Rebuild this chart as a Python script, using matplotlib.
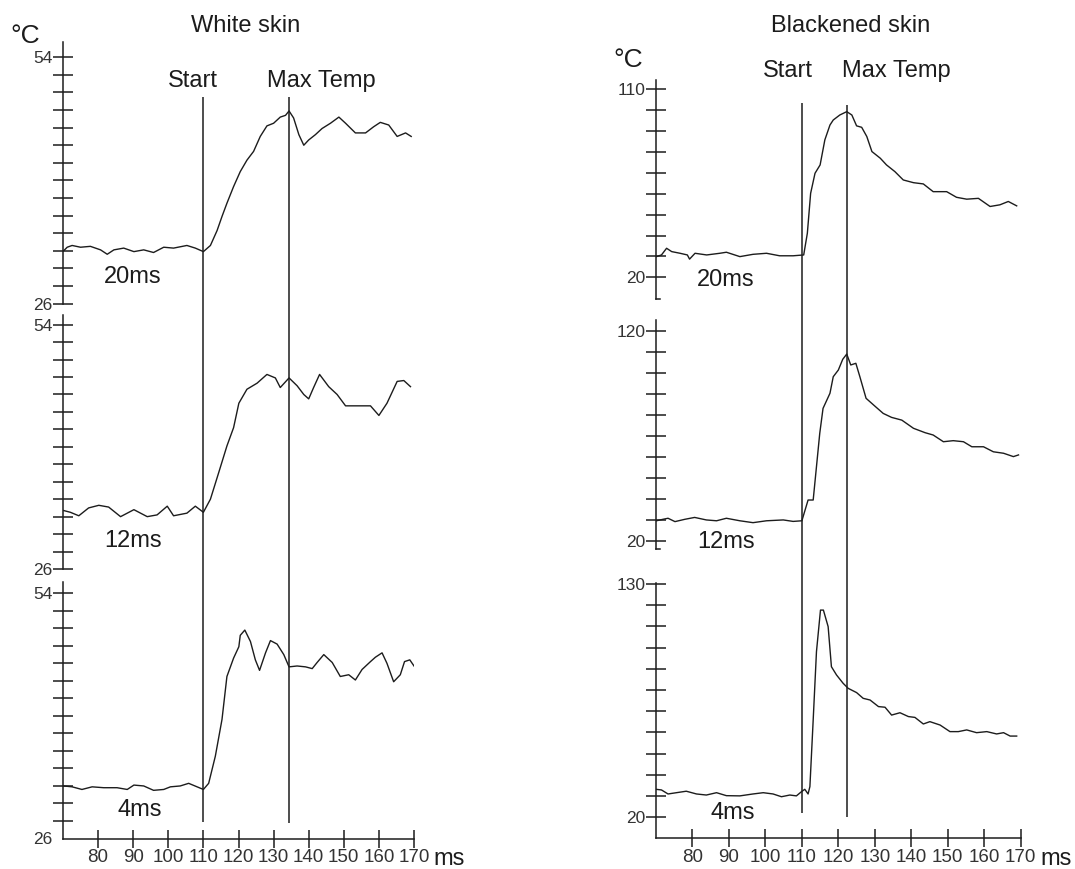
import matplotlib.pyplot as plt

plt.rcParams['font.family'] = ['Liberation Sans', 'DejaVu Sans']

W, H = 1075, 869
INK = '#1c1c1c'
GREY = '#333333'

# ---- traces: time (ms) and temperature (degC) ----
# white skin
w20_t = [70.2, 71.2, 72.6, 75.0, 77.8, 80.7, 82.6, 84.5, 87.3, 90.2, 93.0, 95.8, 98.7, 101.5, 105.3, 107.7,
         110.0, 112.0, 113.9, 115.3, 116.7, 118.6, 120.5, 122.4, 124.3, 126.2, 128.1, 130.0, 131.9, 133.4,
         134.4, 135.7, 137.2, 138.6, 140.0, 141.9, 143.8, 146.2, 148.6, 150.5, 153.3, 156.2, 158.5, 160.4,
         162.8, 165.2, 167.6, 169.2]
w20_T = [32.0, 32.4, 32.6, 32.4, 32.5, 32.1, 31.6, 32.1, 32.3, 31.9, 32.1, 31.8, 32.4, 32.3, 32.6, 32.3,
         31.9, 32.6, 34.3, 35.9, 37.4, 39.3, 41.0, 42.3, 43.3, 45.0, 46.2, 46.5, 47.2, 47.4,
         47.9, 47.1, 45.2, 44.0, 44.6, 45.2, 45.9, 46.5, 47.2, 46.5, 45.4, 45.4, 46.1, 46.6,
         46.3, 45.0, 45.4, 45.0]

w12_t = [70.2, 72.1, 74.5, 77.3, 80.2, 83.0, 86.4, 90.2, 94.0, 96.8, 99.7, 101.5, 105.3, 107.7, 110.0,
         112.0, 114.4, 116.7, 118.6, 120.1, 122.4, 125.3, 128.1, 130.5, 131.9, 134.4, 136.7, 138.6, 140.0,
         141.4, 143.1, 145.7, 148.1, 150.5, 153.8, 157.6, 160.0, 162.3, 165.2, 167.1, 169.0]
w12_T = [32.7, 32.5, 32.1, 33.0, 33.3, 33.1, 32.0, 32.8, 32.0, 32.2, 33.2, 32.1, 32.4, 33.2, 32.5,
         34.0, 37.1, 40.1, 42.2, 45.0, 46.6, 47.3, 48.3, 47.9, 46.8, 47.9, 47.0, 46.0, 45.5,
         46.8, 48.3, 46.9, 46.0, 44.7, 44.7, 44.7, 43.6, 45.0, 47.5, 47.6, 46.9]

w4_t = [70.2, 72.6, 75.4, 78.3, 81.6, 85.4, 88.3, 90.2, 93.0, 95.8, 98.7, 100.6, 103.4, 105.8, 108.2,
        110.0, 111.5, 113.4, 115.3, 116.7, 118.6, 120.1, 120.5, 121.8, 123.4, 124.8, 126.0, 127.7, 129.1,
        131.0, 132.9, 134.4, 136.7, 139.1, 141.0, 142.4, 144.3, 146.7, 149.0, 151.4, 153.3, 155.2, 157.6,
        159.0, 160.9, 162.3, 164.2, 166.1, 167.3, 168.8, 170.0]
w4_T = [32.0, 31.9, 31.6, 31.9, 31.8, 31.8, 31.6, 32.1, 32.0, 31.5, 31.6, 31.9, 32.0, 32.3, 31.9,
        31.6, 32.3, 35.4, 39.6, 44.5, 46.6, 47.9, 49.2, 49.8, 48.5, 46.4, 45.2, 47.2, 48.6,
        48.2, 47.0, 45.6, 45.7, 45.6, 45.4, 46.1, 47.0, 46.1, 44.5, 44.7, 44.1, 45.3, 46.2,
        46.7, 47.2, 46.0, 43.9, 44.7, 46.2, 46.4, 45.7]

# blackened skin
b20_t = [70.1, 71.5, 72.9, 74.3, 76.6, 78.6, 79.2, 80.7, 83.9, 87.5, 89.3, 93.0, 96.6, 100.3, 103.9,
         107.6, 110.5, 111.5, 112.4, 113.6, 115.0, 116.3, 117.7, 118.6, 120.4, 122.3, 123.7, 125.0, 126.4,
         127.8, 129.2, 131.5, 133.2, 135.5, 137.8, 140.6, 143.3, 146.0, 149.7, 152.4, 155.2, 158.4, 161.6,
         164.3, 166.6, 168.9]
b20_T = [29.9, 30.7, 33.9, 32.3, 31.5, 30.7, 28.7, 31.5, 30.7, 31.5, 32.0, 29.9, 31.0, 31.5, 30.3,
         30.3, 30.7, 41.1, 60.2, 69.8, 73.8, 85.8, 92.9, 95.3, 97.7, 99.3, 97.7, 92.5, 91.8,
         87.4, 80.2, 77.0, 73.8, 70.6, 66.6, 65.3, 64.7, 61.0, 61.0, 58.3, 57.4, 57.8, 53.9,
         54.7, 56.3, 54.2]

b12_t = [70.1, 71.9, 73.3, 75.2, 77.9, 80.6, 83.8, 86.6, 89.3, 93.0, 96.6, 100.3, 104.9, 107.6, 110.0,
         111.7, 113.1, 114.0, 114.9, 115.8, 117.7, 118.6, 120.0, 121.2, 122.3, 123.4, 124.8, 125.9, 127.6,
         130.0, 132.3, 134.6, 137.4, 140.6, 143.8, 146.0, 148.8, 151.5, 154.3, 156.6, 159.8, 162.5, 165.3,
         168.0, 169.4]
b12_T = [29.5, 30.2, 30.7, 29.1, 30.2, 31.1, 29.9, 29.5, 30.7, 29.5, 28.6, 29.5, 29.9, 29.2, 29.5,
         39.4, 39.4, 55.3, 71.2, 83.1, 90.3, 98.2, 101.4, 106.5, 109.0, 103.8, 104.6, 98.2, 87.9,
         84.2, 80.7, 78.8, 77.5, 73.6, 71.5, 70.4, 67.2, 67.7, 67.2, 64.8, 64.8, 62.4, 61.7,
         60.1, 60.9]

b4_t = [70.0, 71.5, 73.3, 75.6, 78.3, 81.1, 83.8, 86.6, 89.3, 93.0, 96.6, 99.4, 102.1, 104.4, 106.7,
        108.5, 109.9, 110.8, 111.7, 112.2, 113.1, 114.0, 115.1, 115.9, 117.2, 118.1, 119.5, 121.3, 122.7,
        125.0, 126.8, 128.7, 131.0, 132.8, 134.6, 136.9, 139.2, 141.0, 143.3, 145.1, 147.9, 150.6, 152.9,
        155.2, 157.9, 160.7, 163.4, 165.3, 167.1, 168.9]
b4_T = [33.2, 32.9, 31.0, 31.6, 32.3, 31.0, 30.5, 31.6, 30.2, 30.1, 31.0, 31.6, 31.0, 29.7, 30.5,
        30.1, 32.1, 33.2, 31.0, 34.5, 65.9, 98.1, 117.7, 117.7, 109.9, 91.0, 87.1, 83.2, 80.8,
        78.8, 76.1, 75.3, 72.2, 71.9, 68.2, 69.3, 67.5, 67.1, 64.0, 65.1, 63.5, 60.4, 60.4,
        61.2, 59.9, 60.4, 59.3, 59.9, 58.3, 58.3]

x_ticks = [80, 90, 100, 110, 120, 130, 140, 150, 160, 170]
white_ticks = list(range(26, 55, 2))
start_ms = 110
white_max_ms = 134.4
black_max_ms = 122.3


def px_axes(fig, left, top, right, bottom):
    return fig.add_axes([left / W, 1 - bottom / H, (right - left) / W, (bottom - top) / H])


def lims(top, bottom, v_hi, px_hi, v_lo, px_lo):
    # y limits so that v_hi/v_lo sit at the given pixel rows
    s = (px_lo - px_hi) / (v_hi - v_lo)
    return v_lo - (bottom - px_lo) / s, v_hi + (px_hi - top) / s


def panel(fig, box, ref, t, T, yticks, tag, tag_at, xaxis=False, hook=False):
    left, top, right, bottom = box
    ax = px_axes(fig, *box)
    ax.plot(t, T, color=INK, lw=1.0)
    ax.set_xlim(70, 170)
    ax.set_ylim(*lims(top, bottom, *ref))
    ax.patch.set_visible(False)
    ax.spines[['top', 'right']].set_visible(False)
    ax.spines['left'].set_linewidth(1.1)
    ax.spines['left'].set_color(INK)
    ax.set_yticks(yticks)
    ax.set_yticklabels([str(v) if v in (yticks[0], yticks[-1]) else '' for v in yticks])
    ax.tick_params(axis='y', direction='inout', length=13.7, width=1.1, pad=0.5,
                   labelsize=12.5, labelcolor=GREY, color=INK)
    if xaxis:
        ax.spines['bottom'].set_linewidth(1.1)
        ax.spines['bottom'].set_color(INK)
        ax.set_xticks(x_ticks)
        ax.tick_params(axis='x', direction='inout', length=12.6, width=1.1, pad=1.5,
                       labelsize=13.5, labelcolor=GREY, color=INK)
        if ax.get_ylim()[0] == yticks[0]:
            ax.yaxis.get_major_ticks()[0].tick1line.set_visible(False)
    else:
        ax.spines['bottom'].set_visible(False)
        ax.set_xticks([])
    if hook:
        y0 = ax.get_ylim()[0]
        ax.plot([70, 71], [y0, y0], color=INK, lw=1.1, clip_on=False)
    ax.text(tag_at[0], tag_at[1], tag, ha='right', va='baseline', fontsize=17, color=INK)
    return ax


def guides(fig, left, right, lines):
    ov = fig.add_axes([left / W, 0, (right - left) / W, 1])
    ov.set_xlim(70, 170)
    ov.set_ylim(H, 0)
    ov.axis('off')
    for x, y0, y1 in lines:
        ov.vlines(x, y0, y1, color=INK, lw=1.1)


def ftext(fig, x, y, s, ha='center', size=17):
    fig.text(x / W, 1 - y / H, s, ha=ha, va='baseline', fontsize=size, color=INK)


fig = plt.figure(figsize=(W / 100, H / 100), dpi=100)

# white skin column
LX0, LX1 = 63, 414
panel(fig, (LX0, 42, LX1, 303.5), (54, 57.3, 26, 303.5), w20_t, w20_T, white_ticks, '20ms', (98.2, 28.3))
panel(fig, (LX0, 315, LX1, 569), (54, 324.7, 26, 569), w12_t, w12_T, white_ticks, '12ms', (98.2, 28.5))
panel(fig, (LX0, 582, LX1, 838.5), (54, 593.3, 26, 838.5), w4_t, w4_T, white_ticks, '4ms', (98.2, 28.6),
      xaxis=True)
guides(fig, LX0, LX1, [(start_ms, 97, 822), (white_max_ms, 97, 823)])

# blackened skin column
RX0, RX1 = 656, 1020.7
panel(fig, (RX0, 80, RX1, 299), (110, 89.3, 20, 277.3), b20_t, b20_T, list(range(20, 111, 10)), '20ms',
      (97.1, 16.0), hook=True)
panel(fig, (RX0, 320, RX1, 549), (120, 331, 20, 540.7), b12_t, b12_T, list(range(20, 121, 10)), '12ms',
      (97.1, 16.4), hook=True)
panel(fig, (RX0, 583, RX1, 838), (130, 584, 20, 817.3), b4_t, b4_T, list(range(20, 131, 10)), '4ms',
      (97.1, 19.1), xaxis=True)
guides(fig, RX0, RX1, [(start_ms, 103, 813), (black_max_ms, 105, 817)])

# titles and labels
ftext(fig, 246, 32, 'White skin')
ftext(fig, 851, 32, 'Blackened skin')
ftext(fig, 10, 43, '°C', ha='left', size=19)
ftext(fig, 613, 67, '°C', ha='left', size=19)
ftext(fig, 193, 87, 'Start')
ftext(fig, 321, 87, 'Max Temp')
ftext(fig, 788, 77, 'Start')
ftext(fig, 896, 77, 'Max Temp')
ftext(fig, 433, 865, 'ms', ha='left')
ftext(fig, 1040, 865, 'ms', ha='left')

fig.savefig('out.png', dpi=100, facecolor='white')
